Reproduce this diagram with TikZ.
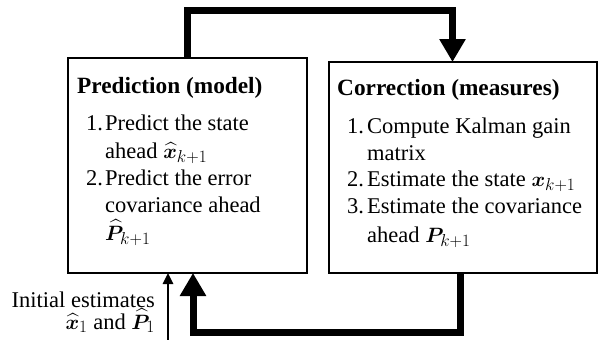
\documentclass[tikz,border=0pt]{standalone}
\usepackage{amsmath}
\usepackage{bm}
\usepackage{fontspec}
\setmainfont{Liberation Serif}
\DeclareMathSizes{22.5}{20.74}{17.28}{12}
\usetikzlibrary{arrows.meta}
\begin{document}
\begin{tikzpicture}[x=1pt,y=-1pt,
  box/.style={draw,line width=1.5pt,inner sep=0pt,outer sep=0pt,anchor=north west},
  txt/.style={anchor=base west,inner sep=0pt,font=\fontsize{22.5}{27.5}\selectfont},
  ttl/.style={txt,font=\fontsize{23.3}{27.5}\selectfont\bfseries},
  ltxt/.style={txt,anchor=base east},
  bigarrow/.style={line width=7pt,-{Triangle[width=25pt,length=23pt]}},
  thinarrow/.style={line width=2.5pt,-{Triangle[width=10pt,length=11pt]}}]
\useasboundingbox (0,0) rectangle (598,340);
% boxes
\node[box,minimum width=239pt,minimum height=215pt] (pred) at (68,58) {};
\node[box,minimum width=268pt,minimum height=211pt] (corr) at (329,62) {};
% prediction text
\node[ttl] (pt) at (77,93) {Prediction (model)};
\node[txt] (pn1) at (86,130) {1.};
\node[txt] (pl1) at (105,130) {Predict the state};
\node[txt] (pl2) at (105,158) {ahead $\widehat{\bm{x}}_{k+1}$};
\node[txt] (pn2) at (86,185) {2.};
\node[txt] (pl3) at (105,185) {Predict the error};
\node[txt] (pl4) at (105,212) {covariance ahead};
\node[txt] (pl5) at (105,240) {$\widehat{\bm{P}}_{k+1}$};
% correction text
\node[ttl] (ct) at (337,95) {Correction (measures)};
\node[txt] (cn1) at (347,133) {1.};
\node[txt] (cl1) at (367,133) {Compute Kalman gain};
\node[txt] (cl2) at (367,160) {matrix};
\node[txt] (cn2) at (347,186) {2.};
\node[txt] (cl3) at (367,186) {Estimate the state $\bm{x}_{k+1}$};
\node[txt] (cn3) at (347,213) {3.};
\node[txt] (cl4) at (367,213) {Estimate the covariance};
\node[txt] (cl5) at (367,242) {ahead $\bm{P}_{k+1}$};
% initial estimates
\node[ltxt] (ie1) at (155,307) {Initial estimates};
\node[ltxt] (ie2) at (155,329) {$\widehat{\bm{x}}_1$ and $\widehat{\bm{P}}_1$};
% connectors
\draw[bigarrow] (187.5,0 |- pred.north) -- (187.5,10) -- (452.5,10) -- (452.5,0 |- corr.north);
\draw[bigarrow] (460,0 |- corr.south) -- (460,332) -- (193,332) -- (193,0 |- pred.south);
\coordinate (init) at (168,340);
\draw[thinarrow] (init) -- (init |- pred.south);
\end{tikzpicture}
\end{document}
